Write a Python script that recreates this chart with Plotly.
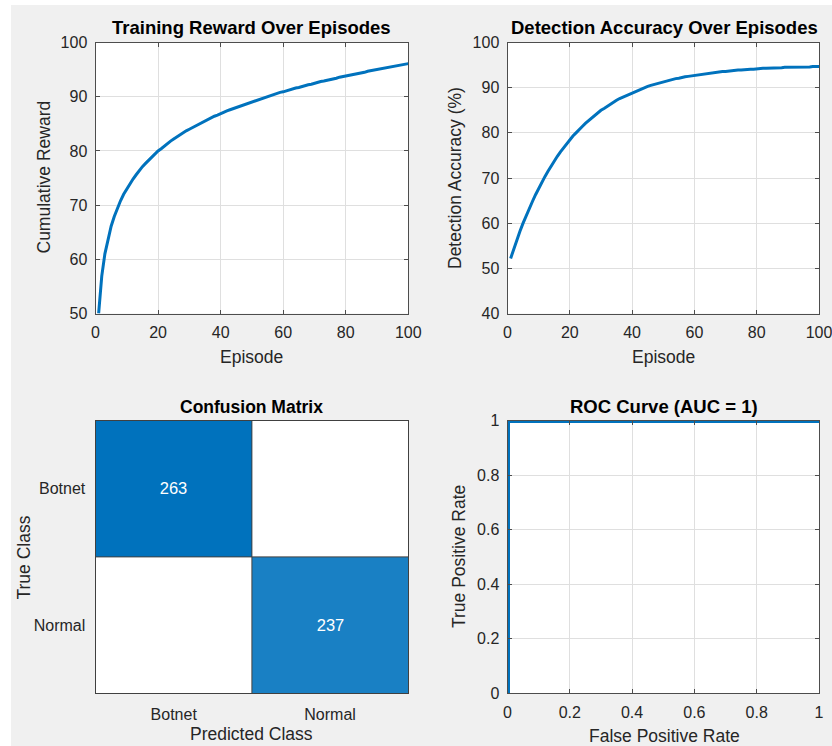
import plotly.graph_objects as go

# ---------------- data ----------------
episodes = list(range(1, 101))

cumulative_reward = [
    50.0, 56.9, 61.0, 63.9, 66.1, 67.9, 69.5, 70.8, 72.0, 73.0,
    74.0, 74.8, 75.6, 76.4, 77.1, 77.7, 78.3, 78.9, 79.4, 80.0,
    80.4, 80.9, 81.4, 81.8, 82.2, 82.6, 83.0, 83.3, 83.7, 84.0,
    84.3, 84.7, 85.0, 85.3, 85.6, 85.8, 86.1, 86.4, 86.6, 86.9,
    87.1, 87.4, 87.6, 87.8, 88.1, 88.3, 88.5, 88.7, 88.9, 89.1,
    89.3, 89.5, 89.7, 89.9, 90.1, 90.3, 90.4, 90.6, 90.8, 90.9,
    91.1, 91.3, 91.4, 91.6, 91.7, 91.9, 92.0, 92.2, 92.3, 92.5,
    92.6, 92.8, 92.9, 93.0, 93.2, 93.3, 93.4, 93.6, 93.7, 93.8,
    93.9, 94.1, 94.2, 94.3, 94.4, 94.5, 94.7, 94.8, 94.9, 95.0,
    95.1, 95.2, 95.3, 95.4, 95.5, 95.6, 95.7, 95.8, 96.0, 96.1,
]

detection_accuracy = [
    52.2, 54.3, 56.3, 58.2, 60.0, 61.7, 63.3, 64.8, 66.3, 67.7,
    69.0, 70.3, 71.5, 72.7, 73.7, 74.8, 75.8, 76.7, 77.6, 78.4,
    79.3, 80.0, 80.8, 81.4, 82.1, 82.7, 83.3, 83.9, 84.4, 85.0,
    85.4, 85.9, 86.4, 86.8, 87.2, 87.6, 87.9, 88.3, 88.6, 88.9,
    89.2, 89.5, 89.8, 90.0, 90.3, 90.5, 90.7, 90.9, 91.1, 91.3,
    91.5, 91.7, 91.8, 92.0, 92.1, 92.3, 92.4, 92.5, 92.6, 92.8,
    92.9, 93.0, 93.1, 93.2, 93.3, 93.3, 93.4, 93.5, 93.6, 93.6,
    93.7, 93.8, 93.8, 93.9, 93.9, 94.0, 94.0, 94.1, 94.1, 94.2,
    94.2, 94.3, 94.3, 94.3, 94.4, 94.4, 94.4, 94.4, 94.5, 94.5,
    94.5, 94.5, 94.6, 94.6, 94.6, 94.6, 94.6, 94.7, 94.7, 94.7,
]

class_labels = ["Botnet", "Normal"]
confusion_counts = [[263, 0],
                    [0, 237]]

roc_fpr = [0, 0, 1]
roc_tpr = [0, 1, 1]

# ---------------- styling ----------------
W, H = 832, 746
FONT = "Liberation Sans, Arial, sans-serif"
TXT = "#262626"
AX = "#4d4d4d"
GRID = "#dfdfdf"
BLUE = "#0072bd"
BG = "#f0f0f0"


def px_x(p):
    return p / W


def px_y(p):
    return 1 - p / H


fig = go.Figure()

fig.add_trace(go.Scatter(x=episodes, y=cumulative_reward, mode="lines",
                         line=dict(color=BLUE, width=3), xaxis="x", yaxis="y",
                         showlegend=False, hoverinfo="skip"))
fig.add_trace(go.Scatter(x=episodes, y=detection_accuracy, mode="lines",
                         line=dict(color=BLUE, width=3), xaxis="x2", yaxis="y2",
                         showlegend=False, hoverinfo="skip"))

cm_text = [[str(v) if v > 0 else "" for v in row] for row in confusion_counts]
fig.add_trace(go.Heatmap(z=confusion_counts, x=[0, 1], y=[0, 1], text=cm_text,
                         texttemplate="%{text}",
                         textfont=dict(color="white", size=16.5, family=FONT),
                         colorscale=[[0, "#ffffff"], [1, BLUE]], zmin=0,
                         zmax=max(max(r) for r in confusion_counts),
                         showscale=False, xaxis="x3", yaxis="y3", hoverinfo="skip"))

fig.add_trace(go.Scatter(x=roc_fpr, y=roc_tpr, mode="lines",
                         line=dict(color=BLUE, width=5), xaxis="x4", yaxis="y4",
                         showlegend=False, hoverinfo="skip"))

tickfont = dict(family=FONT, size=16, color=TXT)


def line_axis(domain, rng, dtick, anchor):
    return dict(domain=domain, range=rng, dtick=dtick, tick0=0, anchor=anchor,
                automargin=False, ticklabeloverflow="allow",
                showline=True, linecolor=AX, linewidth=1, mirror="ticks",
                ticks="inside", ticklen=4, tickcolor=AX,
                showgrid=True, gridcolor=GRID, gridwidth=1,
                zeroline=False, tickfont=tickfont, ticklabelstandoff=4)


top_y = [px_y(313.5), px_y(42.5)]
bot_y = [px_y(693.3), px_y(420.5)]
left_x = [px_x(95.5), px_x(408.3)]
right_x = [px_x(507.5), px_x(819)]

fig.update_layout(
    width=W, height=H,
    margin=dict(l=0, r=0, t=0, b=0, autoexpand=False),
    paper_bgcolor=BG, plot_bgcolor="#ffffff",
    font=dict(family=FONT, color=TXT),
    xaxis=line_axis(left_x, [0, 100], 20, "y"),
    yaxis=line_axis(top_y, [50, 100], 10, "x"),
    xaxis2=line_axis(right_x, [0, 100], 20, "y2"),
    yaxis2=line_axis(top_y, [40, 100], 10, "x2"),
    xaxis4=line_axis(right_x, [0, 1], 0.2, "y4"),
    yaxis4=line_axis(bot_y, [0, 1], 0.2, "x4"),
    xaxis3=dict(domain=left_x, range=[-0.5, 1.5], anchor="y3", automargin=False,
                tickvals=[0, 1], ticktext=class_labels, ticks="",
                showline=True, linecolor="#404040", mirror=True,
                showgrid=False, zeroline=False, tickfont=tickfont,
                ticklabelstandoff=6),
    yaxis3=dict(domain=bot_y, range=[1.5, -0.5], anchor="x3", automargin=False,
                tickvals=[0, 1], ticktext=class_labels, ticks="",
                showline=True, linecolor="#404040", mirror=True,
                showgrid=False, zeroline=False, tickfont=tickfont,
                ticklabelstandoff=6),
    shapes=[
        dict(type="rect", xref="paper", yref="paper", x0=0, x1=px_x(11), y0=0, y1=1,
             fillcolor="white", line=dict(width=0), layer="below"),
        dict(type="rect", xref="paper", yref="paper", x0=0, x1=1, y0=px_y(5), y1=1,
             fillcolor="white", line=dict(width=0), layer="below"),
        dict(type="line", xref="x3", yref="y3", x0=0.5, x1=0.5, y0=-0.5, y1=1.5,
             line=dict(color="#404040", width=1), layer="above"),
        dict(type="line", xref="x3", yref="y3", x0=-0.5, x1=1.5, y0=0.5, y1=0.5,
             line=dict(color="#404040", width=1), layer="above"),
    ],
)

annots = []


def add_text(text, x, y, size, bold=False, angle=0, color=TXT):
    annots.append(dict(text=f"<b>{text}</b>" if bold else text,
                       x=px_x(x), y=px_y(y), xref="paper", yref="paper",
                       xanchor="center", yanchor="middle", showarrow=False,
                       textangle=angle,
                       font=dict(family=FONT, size=size, color=color)))


add_text("Training Reward Over Episodes", 252, 27, 18.5, bold=True, color="#000000")
add_text("Detection Accuracy Over Episodes", 664, 27, 18.5, bold=True, color="#000000")
add_text("Confusion Matrix", 252, 407, 17.5, bold=True, color="#000000")
add_text("ROC Curve (AUC = 1)", 664, 406, 18.5, bold=True, color="#000000")

add_text("Episode", 251.5, 357, 17.5)
add_text("Episode", 663, 357, 17.5)
add_text("Predicted Class", 252, 734, 17.5)
add_text("False Positive Rate", 664, 736, 17.5)

add_text("Cumulative Reward", 43, 177.5, 17.5, angle=-90)
add_text("Detection Accuracy (%)", 455, 178, 17.5, angle=-90)
add_text("True Class", 23, 557.5, 17.5, angle=-90)
add_text("True Positive Rate", 459, 557, 17.5, angle=-90)

fig.update_layout(annotations=annots)

# remove the browser's default body margin so the figure fills the window
fig.write_html(
    "out.html",
    config={"displayModeBar": False},
    post_script="document.body.style.margin='0px';document.documentElement.style.overflow='hidden';",
)
